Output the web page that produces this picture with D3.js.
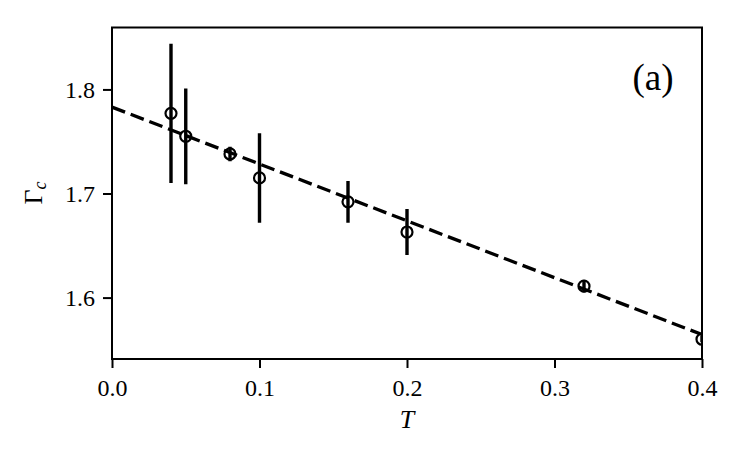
<!DOCTYPE html>
<meta charset="utf-8">
<style>
body { margin: 0; background: #fff; }
text { font-family: "Liberation Serif", "DejaVu Serif", serif; fill: #000; }
</style>
<div id="chart"></div>
<script src="https://d3js.org/d3.v7.min.js"></script>
<script>

// data
var temps  = [0.04, 0.05, 0.08, 0.10, 0.16, 0.20, 0.32, 0.40];
var gammas = [1.777, 1.755, 1.738, 1.715, 1.692, 1.663, 1.611, 1.560];
var errs   = [0.067, 0.046, 0.007, 0.043, 0.020, 0.022, 0.006, 0.003];

// linear fit (dashed line), endpoints
var fitT = [0.0, 0.4];
var fitG = [1.783, 1.5645];

var xTicks = [0.0, 0.1, 0.2, 0.3, 0.4];
var yTicks = [1.6, 1.7, 1.8];

var margin = {top: 27.5, right: 45, bottom: 103, left: 112},
    W = 747, H = 462,
    width = W - margin.left - margin.right,
    height = H - margin.top - margin.bottom;

var svg = d3.select("#chart").append("svg")
    .attr("width", W)
    .attr("height", H)
  .append("g")
    .attr("transform", "translate(" + margin.left + "," + margin.top + ")");

var x = d3.scaleLinear().domain([0, 0.4]).range([0, width]);
var y = d3.scaleLinear().domain([1.541, 1.8595]).range([height, 0]);

svg.append("clipPath").attr("id", "clip")
  .append("rect").attr("width", width).attr("height", height);

var plot = svg.append("g").attr("clip-path", "url(#clip)");

// dashed fit line
var fitData = fitT.map(function(t, i) { return [t, fitG[i]]; });
plot.append("path")
  .datum(fitData)
  .attr("d", d3.line().x(function(d) { return x(d[0]); }).y(function(d) { return y(d[1]); }))
  .attr("fill", "none")
  .attr("stroke", "#000")
  .attr("stroke-width", 3.3)
  .attr("stroke-dasharray", "14,6");

var pts = temps.map(function(t, i) { return {t: t, g: gammas[i], e: errs[i]}; });

// error bars
plot.selectAll(".err")
  .data(pts)
  .enter().append("line")
    .attr("x1", function(d) { return x(d.t); })
    .attr("x2", function(d) { return x(d.t); })
    .attr("y1", function(d) { return y(d.g - d.e); })
    .attr("y2", function(d) { return y(d.g + d.e); })
    .attr("stroke", "#000")
    .attr("stroke-width", 3.4);

// open circles
plot.selectAll(".pt")
  .data(pts)
  .enter().append("circle")
    .attr("cx", function(d) { return x(d.t); })
    .attr("cy", function(d) { return y(d.g); })
    .attr("r", 5.5)
    .attr("fill", "none")
    .attr("stroke", "#000")
    .attr("stroke-width", 2.2);

// axes
var xAxis = svg.append("g")
  .attr("transform", "translate(0," + height + ")")
  .call(d3.axisBottom(x).tickValues(xTicks).tickFormat(d3.format(".1f")).tickSize(9).tickPadding(11));
var yAxis = svg.append("g")
  .call(d3.axisLeft(y).tickValues(yTicks).tickFormat(d3.format(".1f")).tickSize(9).tickPadding(8));

[xAxis, yAxis].forEach(function(a) {
  a.attr("font-size", null).attr("font-family", null);
  a.select(".domain").remove();
  a.selectAll("line").attr("stroke", "#000").attr("stroke-width", 2);
  a.selectAll("text").style("font-size", "24px");
});
yAxis.selectAll("text").attr("dy", "0.33em");

// frame
svg.append("rect")
  .attr("width", width).attr("height", height)
  .attr("fill", "none").attr("stroke", "#000").attr("stroke-width", 2);

// axis labels
svg.append("text")
  .attr("x", width / 2).attr("y", 428 - margin.top)
  .attr("text-anchor", "middle")
  .style("font-size", "26px").style("font-style", "italic")
  .text("T");

var yl = svg.append("text")
  .attr("transform", "translate(" + (42 - margin.left) + "," + (193 - margin.top) + ") rotate(-90)")
  .attr("text-anchor", "middle")
  .style("font-size", "26px");
yl.append("tspan").text("Γ");
yl.append("tspan").attr("dy", 4).style("font-style", "italic").style("font-size", "18px").text("c");

// panel tag
svg.append("text")
  .attr("x", 653 - margin.left).attr("y", 90 - margin.top)
  .attr("text-anchor", "middle")
  .style("font-size", "37px")
  .text("(a)");

</script>
